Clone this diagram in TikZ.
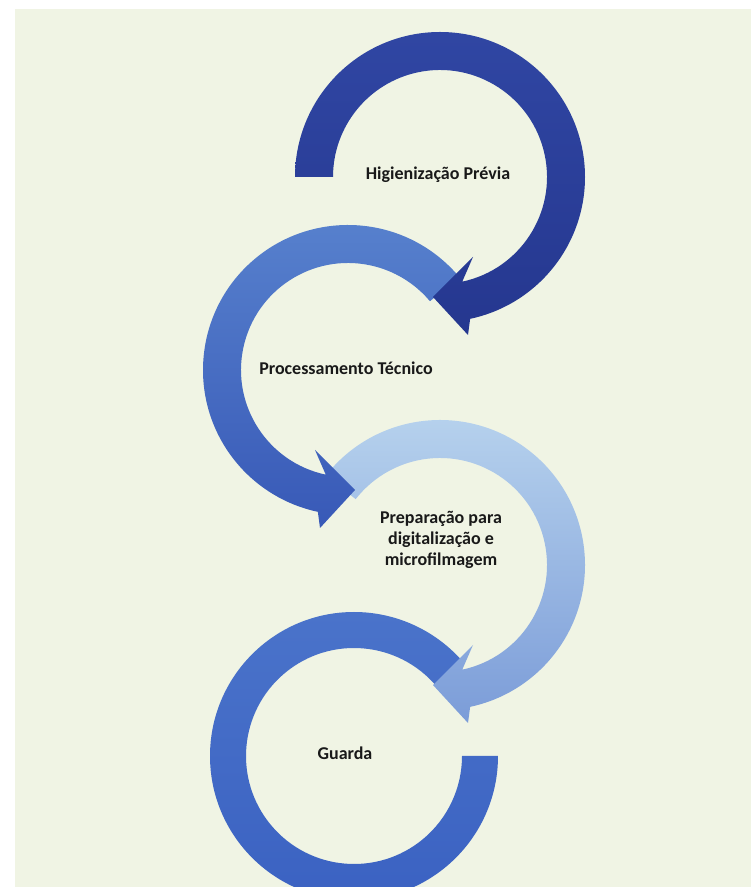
\documentclass[tikz,border=0pt]{standalone}
\usepackage{fontspec}
\setmainfont{Carlito}
\usetikzlibrary{calc}
\definecolor{bgcream}{HTML}{F0F4E4}
\definecolor{oneTop}{HTML}{3046A3}
\definecolor{oneBot}{HTML}{25378F}
\definecolor{twoTop}{HTML}{5882CE}
\definecolor{twoBot}{HTML}{3859B7}
\definecolor{threeTop}{HTML}{B9D4EE}
\definecolor{threeBot}{HTML}{7B9CD8}
\definecolor{fourTop}{HTML}{4A73CA}
\definecolor{fourBot}{HTML}{3B62C2}
\begin{document}
\begin{tikzpicture}[x=1pt,y=1pt,
  lbl/.style={font=\bfseries\fontsize{18}{21}\selectfont, text=black!90, align=center, inner sep=0pt},
  arrowone/.style={top color=oneTop, bottom color=oneBot},
  arrowtwo/.style={top color=twoTop, bottom color=twoBot},
  arrowthree/.style={top color=threeTop, bottom color=threeBot},
  arrowfour/.style={top color=fourTop, bottom color=fourBot}]
\useasboundingbox (0,0) rectangle (751,895);
\fill[white] (0,0) rectangle (751,895);
\fill[bgcream] (15,8) rectangle (751,886);
\coordinate (c1) at (440,718);
\coordinate (c2) at (348,525);
\coordinate (c3) at (440,330);
\coordinate (c4) at (354,139);
\begin{scope}
\clip (15,8) rectangle (751,886);
% arrow 4: Guarda (plain arc)
\shade[arrowfour] ($(c4)+(0:144)$) arc[start angle=0,end angle=-320,radius=144pt]
  -- ($(c4)+(40:108)$) arc[start angle=40,end angle=360,radius=108pt] -- cycle;
% arrow 3: Preparacao
\shade[arrowthree] ($(c3)+(142:145)$) arc[start angle=142,end angle=-78,radius=145pt]
  -- ($(c3)+(28,-158)$) -- ($(c3)+(-7,-120)$) -- ($(c3)+(33,-80)$) -- ($(c3)+(-78:107)$)
  arc[start angle=-78,end angle=142,radius=107pt] -- cycle;
% arrow 2: Processamento
\shade[arrowtwo] ($(c2)+(40:145)$) arc[start angle=40,end angle=258,radius=145pt]
  -- ($(c2)+(-28,-158)$) -- ($(c2)+(7,-120)$) -- ($(c2)+(-33,-80)$) -- ($(c2)+(258:107)$)
  arc[start angle=258,end angle=40,radius=107pt] -- cycle;
% arrow 1: Higienizacao
\shade[arrowone] ($(c1)+(180:145)$) arc[start angle=180,end angle=-78,radius=145pt]
  -- ($(c1)+(28,-158)$) -- ($(c1)+(-7,-120)$) -- ($(c1)+(33,-80)$) -- ($(c1)+(-78:107)$)
  arc[start angle=-78,end angle=180,radius=107pt] -- cycle;
\end{scope}
\node[lbl] (t1) at (438,720) {Higienização Prévia};
\node[lbl] (t2) at (346,527) {Processamento Técnico};
\node[lbl] (t3) at (441,355) {Preparação para\\digitalização e\\microfilmagem};
\node[lbl] (t4) at (345,142) {Guarda};
\end{tikzpicture}
\end{document}
